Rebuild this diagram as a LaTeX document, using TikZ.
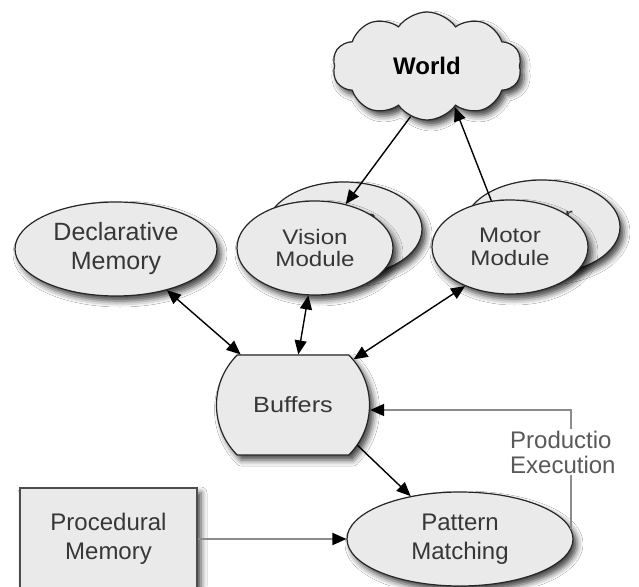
\documentclass[tikz,border=0pt]{standalone}
\usepackage{fontspec}
\setmainfont{Liberation Sans}
\newfontfamily\widesans[FakeStretch=1.15]{Liberation Sans}
\usetikzlibrary{shapes.geometric,shapes.symbols,shapes.misc,shadows.blur,arrows.meta}
\definecolor{shapefill}{RGB}{234,234,234}
\definecolor{txt}{RGB}{55,55,55}
\begin{document}
\begin{tikzpicture}[x=1pt,y=-1pt,
  shp/.style={draw=black!85, line width=1.2pt, fill=shapefill, text=txt, inner sep=0pt, align=center,
    blur shadow={shadow xshift=4pt, shadow yshift=-5pt, shadow blur radius=6pt, shadow opacity=75}},
  ell/.style={shp, ellipse},
  modell/.style={ell, minimum width=156pt, minimum height=94pt, font=\widesans\fontsize{21}{22.5}\selectfont},
  big/.style={font=\fontsize{24}{29}\selectfont},
  tip/.style={-{Triangle[length=14pt,width=12pt,color=black]}},
  arr/.style={line width=1.4pt, tip},
  darr/.style={line width=1.4pt, {Triangle[length=14pt,width=12pt]}-{Triangle[length=14pt,width=12pt]}},
  grayarr/.style={line width=#1, draw=black!45, tip},
]
\fill[white] (0,0) rectangle (639,586);
\useasboundingbox (0,0) rectangle (639,586);

\node[shp, cloud, cloud puffs=10, cloud puff arc=110, minimum width=189pt, minimum height=108pt,
  font=\bfseries\fontsize{24}{28}\selectfont, text=black] (World) at (427,66) {World};

\node[ell, minimum width=202pt, minimum height=94pt, font=\fontsize{25}{29}\selectfont] (Decl) at (116,249) {Declarative\\Memory};

\node[modell] (VisionB) at (344,229) {Vision\\Module};
\node[modell] (VisionF) at (315,248) {Vision\\Module};
\node[modell] (MotorB) at (542,227) {Motor\\Module};
\node[modell] (MotorF) at (510,247) {Motor\\Module};

\node[shp, rounded rectangle, rounded rectangle arc length=90, minimum width=153pt, minimum height=100pt,
  font=\widesans\fontsize{22}{26}\selectfont] (Buffers) at (293,405) {Buffers};

\node[ell, minimum width=226pt, minimum height=94pt, big] (Pattern) at (460,539) {Pattern\\Matching};

\node[shp, rectangle, draw=black!70, minimum width=177pt, minimum height=102pt, big] (Proc) at (108.5,539) {Procedural\\Memory};

\draw[arr] (World.252) -- (VisionF.55);
\draw[arr] (MotorF.112) -- (World.304);
\draw[darr] (Decl.321) -- (Buffers.136);
\draw[darr] (VisionF.262) -- (Buffers.84);
\draw[darr] (MotorF.221) -- (Buffers.37);
\draw[arr] (Buffers.328) -- (Pattern.139);
\draw[grayarr=2pt] (Proc) -- (Pattern);
\draw[grayarr=1.5pt] (Pattern.5) |- ([yshift=-5pt]Buffers.east);

\node[fill=white, inner sep=2pt, align=left, anchor=west, font=\fontsize{24}{25}\selectfont, text=black!65]
  (ProdLbl) at (508,452) {Productio\\Execution};
\end{tikzpicture}
\end{document}
